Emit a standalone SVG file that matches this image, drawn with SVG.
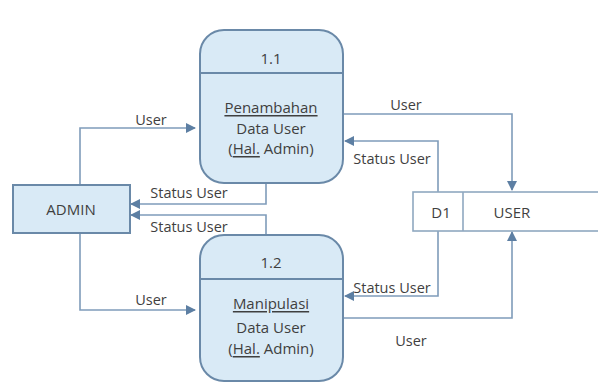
<svg xmlns="http://www.w3.org/2000/svg" width="598" height="383" viewBox="0 0 598 383">
  <defs>
    <marker id="arrow" viewBox="0 0 10 10" refX="9" refY="5" markerWidth="10" markerHeight="10" markerUnits="userSpaceOnUse" orient="auto">
      <path d="M0,0 L10,5 L0,10 z" fill="#5d7fa3"/>
    </marker>
    <style>
      .shape { fill: #d9eaf6; stroke: #6a89a8; stroke-width: 2; }
      .line { fill: none; stroke: #7f9cba; stroke-width: 1.6; }
      .flow { fill: none; stroke: #7f9cba; stroke-width: 1.6; marker-end: url(#arrow); }
      text { font-family: "Open Sans", "Noto Sans", sans-serif; font-size: 15px; fill: #3f3f3f; text-anchor: middle; dominant-baseline: central; }
      .lbl { font-size: 14.5px; }
    </style>
  </defs>
  <rect width="598" height="383" fill="#ffffff"/>

  <!-- data flows -->
  <g id="connectors">
    <path class="flow" d="M80,185 V128 H195"/>
    <path class="flow" d="M266,183 V204 H131"/>
    <path class="flow" d="M266,235 V215 H131"/>
    <path class="flow" d="M80,233 V310 H195"/>
    <path class="flow" d="M343,114 H512 V190"/>
    <path class="flow" d="M438,193 V141 H345"/>
    <path class="flow" d="M438,231 V296 H345"/>
    <path class="flow" d="M343,318 H512 V232"/>
    <text class="lbl" x="151" y="119">User</text>
    <text class="lbl" x="189" y="192">Status User</text>
    <text class="lbl" x="189" y="226">Status User</text>
    <text class="lbl" x="151" y="299">User</text>
    <text class="lbl" x="406" y="104">User</text>
    <text class="lbl" x="392" y="158">Status User</text>
    <text class="lbl" x="392" y="287">Status User</text>
    <text class="lbl" x="411" y="340">User</text>
  </g>

  <!-- external entity -->
  <g id="admin">
    <rect class="shape" x="13" y="185" width="117" height="48"/>
    <text x="71" y="209">ADMIN</text>
  </g>

  <!-- process 1.1 -->
  <g id="process-1-1">
    <rect class="shape" x="200" y="30" width="143" height="153" rx="24" ry="24"/>
    <line class="line" x1="200" y1="73" x2="343" y2="73" style="stroke:#6a89a8;stroke-width:2"/>
    <text x="271" y="58">1.1</text>
    <text x="271" y="107" text-decoration="underline">Penambahan</text>
    <text x="271" y="128">Data User</text>
    <text x="271" y="148">(<tspan text-decoration="underline">Hal.</tspan> Admin)</text>
  </g>

  <!-- process 1.2 -->
  <g id="process-1-2">
    <rect class="shape" x="200" y="235" width="143" height="146" rx="24" ry="24"/>
    <line class="line" x1="200" y1="279" x2="343" y2="279" style="stroke:#6a89a8;stroke-width:2"/>
    <text x="271" y="262">1.2</text>
    <text x="271" y="303" text-decoration="underline">Manipulasi</text>
    <text x="271" y="327">Data User</text>
    <text x="271" y="348">(<tspan text-decoration="underline">Hal.</tspan> Admin)</text>
  </g>

  <!-- data store D1 -->
  <g id="store-d1">
    <rect x="413" y="192" width="190" height="39" fill="#ffffff" stroke="#8fa8c0" stroke-width="1.6"/>
    <line x1="463" y1="192" x2="463" y2="231" stroke="#8fa8c0" stroke-width="1.6"/>
    <text x="441" y="212">D1</text>
    <text x="512" y="212">USER</text>
  </g>
</svg>
